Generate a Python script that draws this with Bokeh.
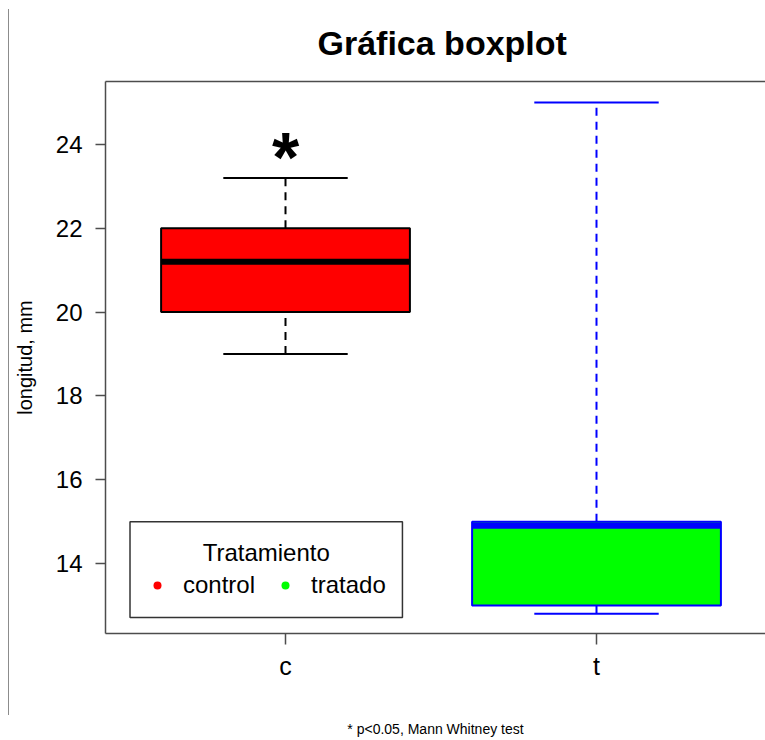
from bokeh.plotting import figure
from bokeh.models import (Range1d, FixedTicker, LinearAxis, Label, Legend, LegendItem,
                          BoxAnnotation, ColumnDataSource, Div, Title)
from bokeh.layouts import row
from bokeh.embed import file_html
from bokeh.resources import INLINE

# Summary statistics of the two groups
groups = ["c", "t"]
group_names = ["control", "tratado"]
whisker_low = [19.0, 12.8]
q1 = [20.0, 13.0]
median = [21.2, 14.9]
q3 = [22.0, 15.0]
whisker_high = [23.2, 25.0]
fill_colors = ["#FF0000", "#00FF00"]
edge_colors = ["#000000", "#0000FF"]
y_ticks = [14, 16, 18, 20, 22, 24]

positions = [i + 1 for i in range(len(groups))]
box_half = 0.4
cap_half = 0.2

src = ColumnDataSource(dict(
    pos=positions,
    left=[p_ - box_half for p_ in positions],
    right=[p_ + box_half for p_ in positions],
    cap_l=[p_ - cap_half for p_ in positions],
    cap_r=[p_ + cap_half for p_ in positions],
    wl=whisker_low, q1=q1, med=median, q3=q3, wh=whisker_high,
    fill=fill_colors, edge=edge_colors,
))

FONT = "Liberation Sans"
AXIS_COLOR = "#4d4d4d"

p = figure(width=755, height=740, output_backend="svg", toolbar_location=None,
           x_range=Range1d(0.4212, 2.5434), y_range=Range1d(12.33, 25.504),
           min_border_left=95, min_border_right=0, min_border_top=81, min_border_bottom=107,
           x_axis_type=None, y_axis_type=None)
p.outline_line_color = None
p.grid.visible = False
p.background_fill_color = "white"
p.border_fill_color = "white"

# title
p.title = Title(text="Gráfica boxplot", align="left", text_font=FONT,
                text_font_style="bold", text_font_size="34px", text_color="black",
                standoff=40, offset=212)

# axes; the footnote is carried as the x axis label
yaxis = LinearAxis(ticker=FixedTicker(ticks=y_ticks), axis_label="longitud, mm")
xaxis = LinearAxis(ticker=FixedTicker(ticks=positions),
                   major_label_overrides={pos: g for pos, g in zip(positions, groups)},
                   axis_label="* p<0.05, Mann Whitney test")
top_axis = LinearAxis(ticker=FixedTicker(ticks=[]), major_label_text_font_size="0px",
                      major_tick_out=0, minor_tick_out=0, major_tick_in=0, minor_tick_in=0)
for ax in (yaxis, xaxis, top_axis):
    ax.axis_line_color = AXIS_COLOR
    ax.axis_line_width = 1.5
    ax.major_tick_line_color = AXIS_COLOR
    ax.major_tick_line_width = 1.5
    ax.minor_tick_line_color = None
    ax.major_tick_in = 0
    ax.major_label_text_font = FONT
    ax.major_label_text_color = "black"
    ax.axis_label_text_font = FONT
    ax.axis_label_text_font_style = "normal"
    ax.axis_label_text_color = "black"
yaxis.major_tick_out = 10
yaxis.major_label_standoff = 13
yaxis.major_label_text_font_size = "24px"
yaxis.axis_label_text_font_size = "20px"
yaxis.axis_label_standoff = 17
xaxis.major_tick_out = 11
xaxis.major_label_standoff = 7
xaxis.major_label_text_font_size = "25px"
xaxis.axis_label_text_font_size = "14px"
xaxis.axis_label_standoff = 38
p.add_layout(yaxis, "left")
p.add_layout(xaxis, "below")
p.add_layout(top_axis, "above")

# whiskers (dashed) and caps
p.segment(x0="pos", y0="q3", x1="pos", y1="wh", line_color="edge", line_width=2,
          line_dash="8 6", source=src)
p.segment(x0="pos", y0="wl", x1="pos", y1="q1", line_color="edge", line_width=2,
          line_dash="8 6", source=src)
p.segment(x0="cap_l", y0="wh", x1="cap_r", y1="wh", line_color="edge", line_width=2, source=src)
p.segment(x0="cap_l", y0="wl", x1="cap_r", y1="wl", line_color="edge", line_width=2, source=src)

# boxes and medians
p.quad(left="left", right="right", bottom="q1", top="q3", fill_color="fill",
       line_color="edge", line_width=2, source=src)
p.segment(x0="left", y0="med", x1="right", y1="med", line_color="edge", line_width=6,
          source=src)

# significance mark over the control group
p.add_layout(Label(x=positions[0], y=24, text="*", text_font=FONT, text_font_style="bold",
                   text_font_size="70px", text_align="center", text_baseline="middle",
                   y_offset=-13, text_color="black"))

# legend (marker-only renderers, nothing drawn in the frame)
legend_items = []
for pos, name, col in zip(positions, group_names, fill_colors):
    r = p.scatter(x=[pos], y=[float("nan")], marker="circle", size=11, fill_color=col,
                  line_color=None)
    legend_items.append(LegendItem(label=name, renderers=[r]))
legend = Legend(items=legend_items, orientation="horizontal", location=(42, 34),
                padding=0, margin=0, spacing=20, glyph_width=20, glyph_height=20,
                label_standoff=16, label_text_font=FONT, label_text_font_size="24px",
                label_text_color="black", border_line_color=None, background_fill_alpha=0)
p.add_layout(legend, "center")
p.add_layout(BoxAnnotation(left=0.5, right=1.376, top=15.0, bottom=12.71, fill_color=None,
                           line_color="#333333", line_alpha=1.0, line_width=1.5))
p.add_layout(Label(x=0.938, y=14.26, text="Tratamiento", text_font=FONT,
                   text_font_size="24px", text_align="center", text_baseline="alphabetic",
                   text_color="black"))

edge = Div(width=10, height=740, margin=0,
           text='<div style="margin-top:9px;width:9px;height:706px;'
                'border-right:1px solid #8c8c8c"></div>')

layout = row(edge, p, spacing=0)
open("out.html", "w").write(file_html(layout, INLINE))
